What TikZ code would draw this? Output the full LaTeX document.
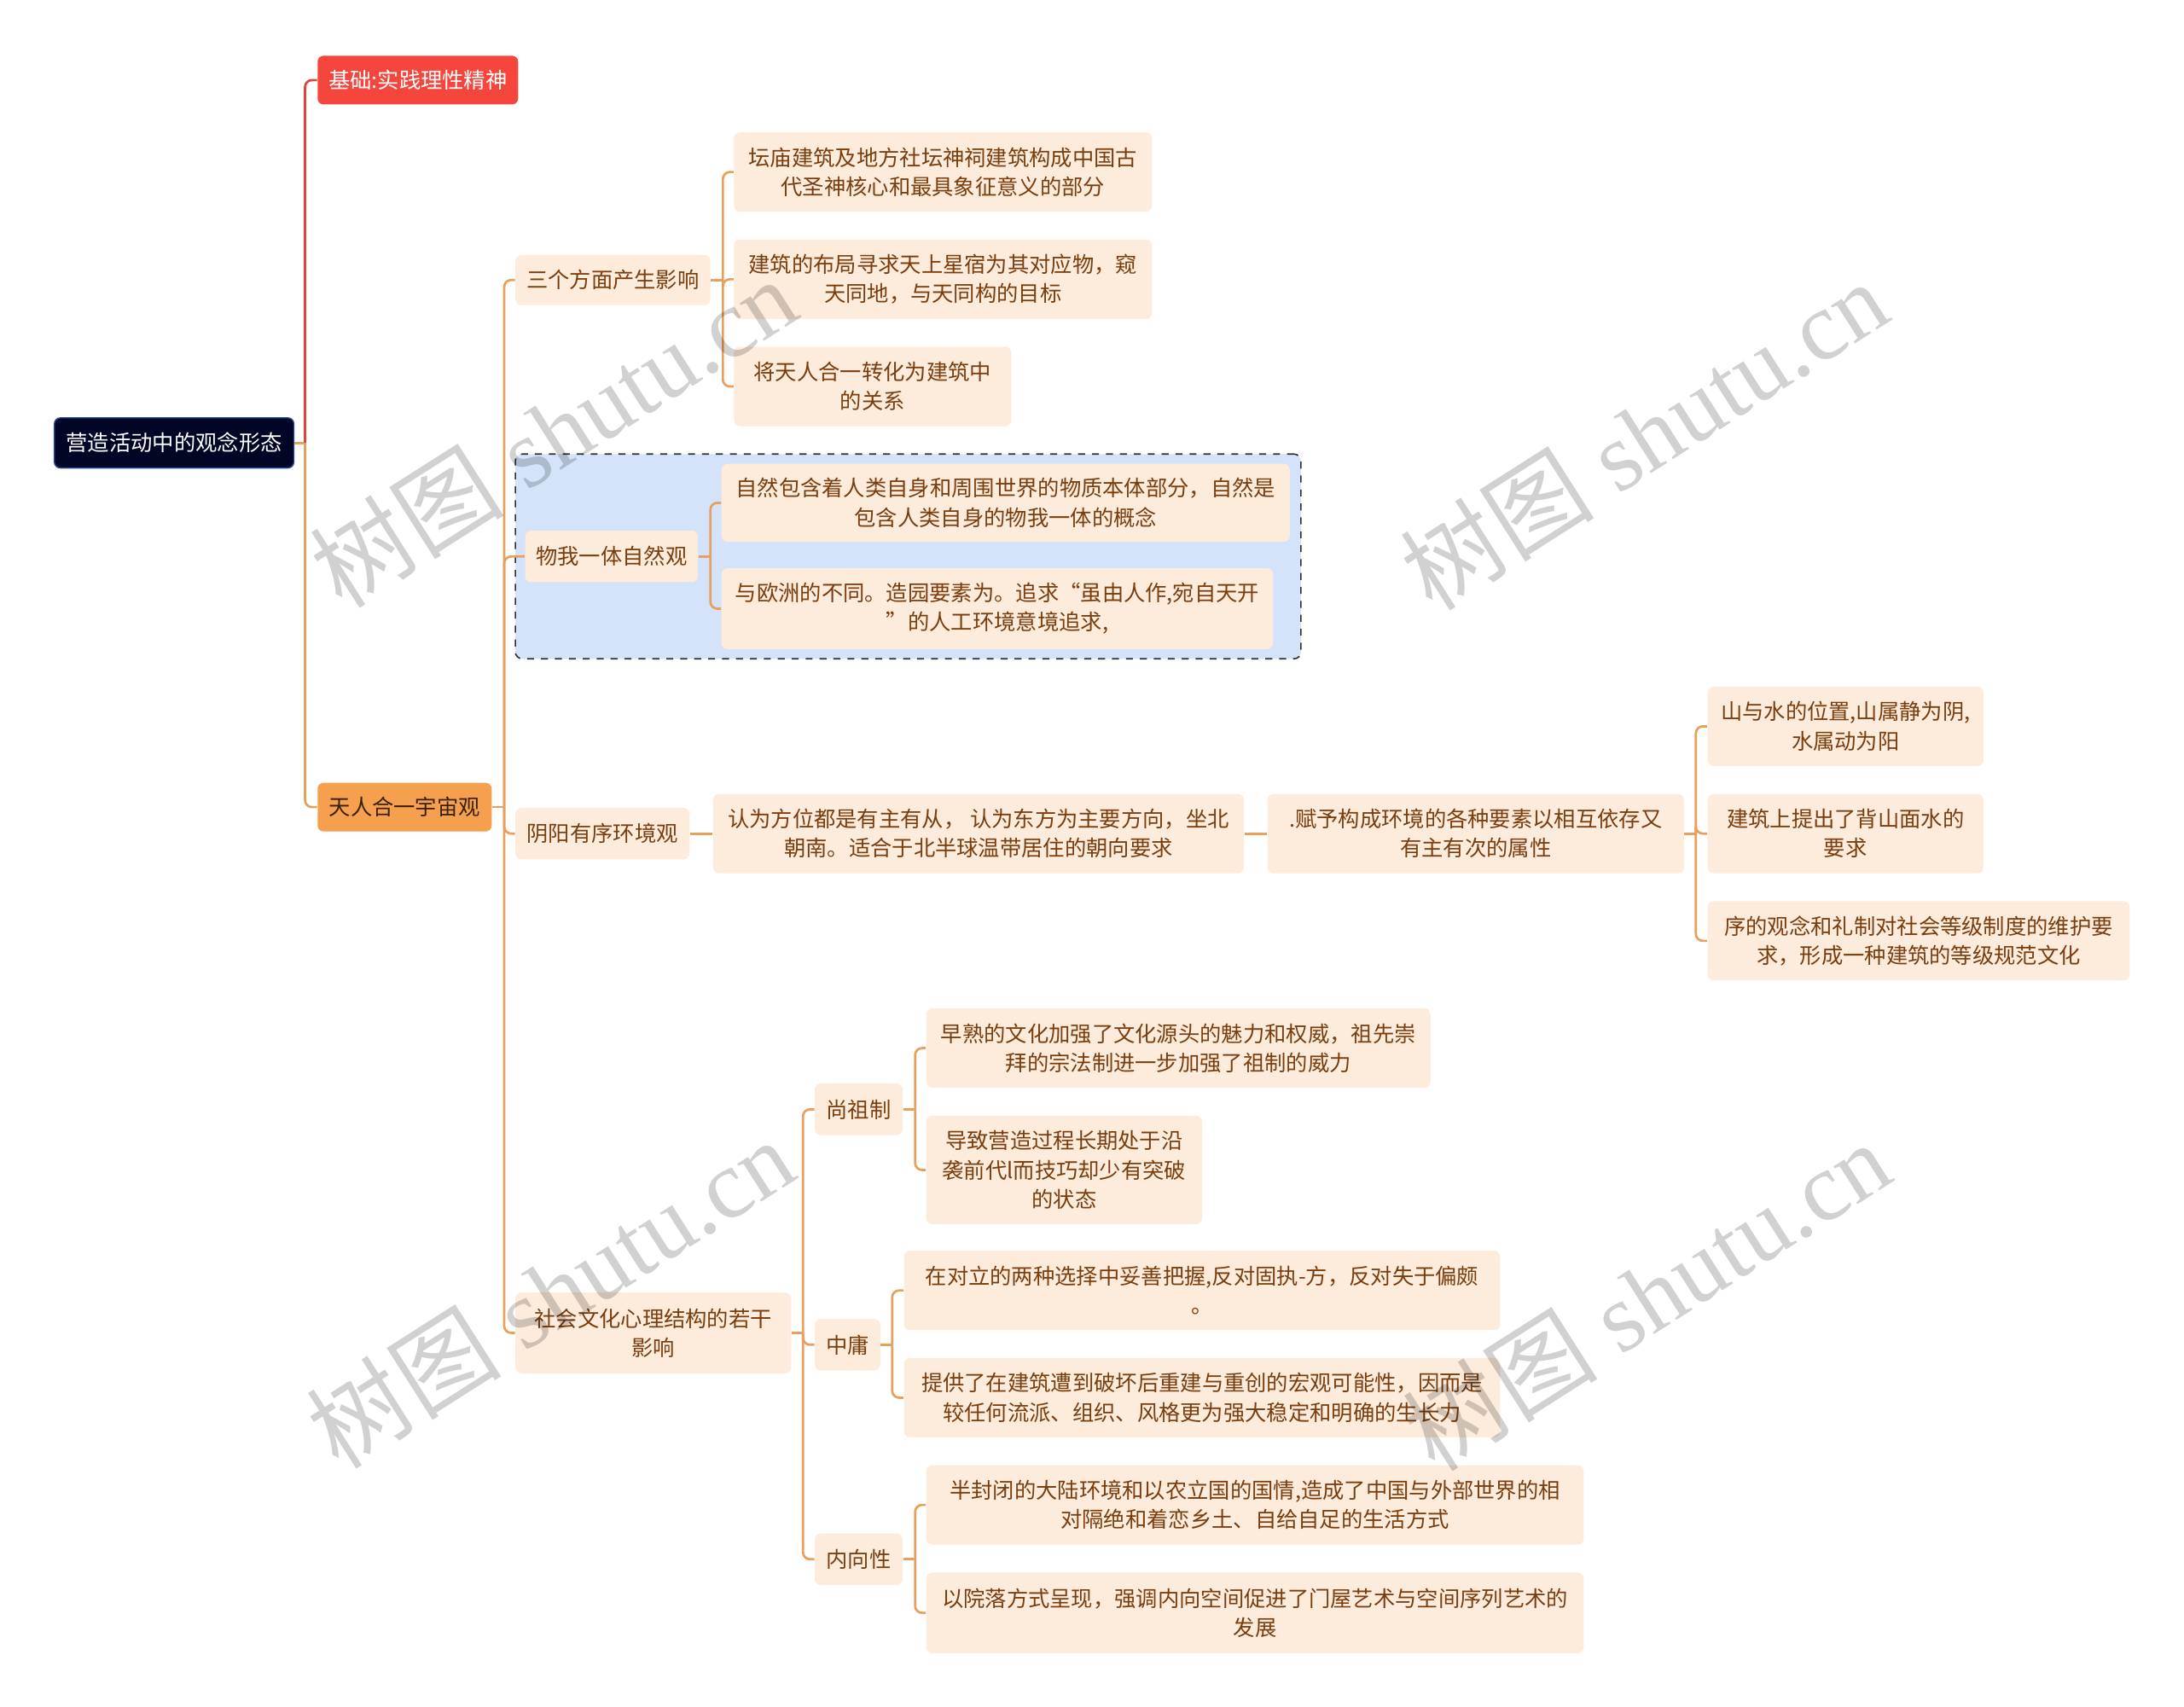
\documentclass[tikz,border=0pt]{standalone}
\usepackage{fontspec}
\setmainfont{Noto Sans CJK SC}
\newfontfamily\wmlatin{Liberation Serif}
\newfontfamily\wmcjk{Noto Sans CJK SC}
\usetikzlibrary{calc}
\definecolor{rootfill}{HTML}{020626}
\definecolor{rootdraw}{HTML}{2E4C9C}
\definecolor{redfill}{HTML}{F5463E}
\definecolor{orfill}{HTML}{F5A04E}
\definecolor{ortext}{HTML}{3A2008}
\definecolor{lightfill}{HTML}{FDEBDC}
\definecolor{lighttext}{HTML}{7A3E0E}
\definecolor{orline}{HTML}{E8A05C}
\definecolor{redline}{HTML}{E0443C}
\definecolor{bluefill}{HTML}{D4E3FA}
\definecolor{bluedraw}{HTML}{303030}
\tikzset{
  wh/.style 2 args={minimum width=#1*0.6pt, minimum height=#2*0.6pt},
  basebox/.style={rounded corners=2.6pt, inner sep=0pt, align=center,
    font=\fontsize{9.3}{12.6}\selectfont},
  rootbox/.style={basebox, fill=rootfill, draw=rootdraw, line width=0.5pt, text=white},
  redbox/.style={basebox, fill=redfill, text=white},
  orbox/.style={basebox, fill=orfill, text=ortext},
  leaf/.style={basebox, fill=lightfill, text=lighttext},
  region/.style={rounded corners=3pt, fill=bluefill, draw=bluedraw, dashed, line width=0.6pt, inner sep=0pt},
  conn/.style={draw=orline, line width=1pt, rounded corners=3pt},
  rconn/.style={draw=redline, line width=1pt, rounded corners=3pt},
  wmark/.style={rotate=32.5, text=black, text opacity=0.18, inner sep=0pt,
    font=\fontsize{42}{42}\selectfont}
}
\begin{document}
\begin{tikzpicture}[x=0.6pt,y=-0.6pt]
\useasboundingbox (0,0) rectangle (1568,1225.6);
\fill[white] (0,0) rectangle (1568,1225.6);

% blue region
\node[region, wh={564}{147}] (reg) at (652,399.5) {};

% nodes
\node[rootbox, wh={172}{36}] (root) at (125,318) {营造活动中的观念形态};
\node[redbox, wh={144}{35}] (red) at (300,57.5) {基础:实践理性精神};
\node[orbox, wh={125}{35}] (tian) at (290.5,579.5) {天人合一宇宙观};

\node[leaf, wh={140}{36}] (san) at (440,201) {三个方面产生影响};
\node[leaf, wh={300}{57}] (s1) at (677,123.5) {坛庙建筑及地方社坛神祠建筑构成中国古\\代圣神核心和最具象征意义的部分};
\node[leaf, wh={300}{57}] (s2) at (677,200.5) {建筑的布局寻求天上星宿为其对应物，窥\\天同地，与天同构的目标};
\node[leaf, wh={199}{57}] (s3) at (626.5,277.5) {将天人合一转化为建筑中\\的关系};

\node[leaf, wh={124}{37}] (wu) at (439,399.5) {物我一体自然观};
\node[leaf, wh={408}{56}] (w1) at (722,361) {自然包含着人类自身和周围世界的物质本体部分，自然是\\包含人类自身的物我一体的概念};
\node[leaf, wh={396}{58}] (w2) at (716,437) {与欧洲的不同。造园要素为。追求“虽由人作,宛自天开\\”的人工环境意境追求,};

\node[leaf, wh={125}{37}] (yin) at (432.5,598.5) {阴阳有序环境观};
\node[leaf, wh={381}{57}] (y1) at (702.5,598.5) {认为方位都是有主有从， 认为东方为主要方向，坐北\\朝南。适合于北半球温带居住的朝向要求};
\node[leaf, wh={299}{57}] (y2) at (1059.5,598.5) {.赋予构成环境的各种要素以相互依存又\\有主有次的属性};
\node[leaf, wh={198}{57}] (y3) at (1325,521.5) {山与水的位置,山属静为阴,\\水属动为阳};
\node[leaf, wh={198}{57}] (y4) at (1325,598.5) {建筑上提出了背山面水的\\要求};
\node[leaf, wh={303}{57}] (y5) at (1377.5,675.5) {序的观念和礼制对社会等级制度的维护要\\求，形成一种建筑的等级规范文化};

\node[leaf, wh={198}{58}] (she) at (469,957) {社会文化心理结构的若干\\影响};
\node[leaf, wh={63}{37}] (shang) at (616.5,796.5) {尚祖制};
\node[leaf, wh={362}{57}] (sh1) at (846,752.5) {早熟的文化加强了文化源头的魅力和权威，祖先崇\\拜的宗法制进一步加强了祖制的威力};
\node[leaf, wh={198}{78}] (sh2) at (764,840) {导致营造过程长期处于沿\\袭前代l而技巧却少有突破\\的状态};
\node[leaf, wh={47}{37}] (zhong) at (608.5,965.5) {中庸};
\node[leaf, wh={428}{57}] (z1) at (863,926.5) {在对立的两种选择中妥善把握,反对固执-方，反对失于偏颇\\。};
\node[leaf, wh={428}{57}] (z2) at (863,1003.5) {提供了在建筑遭到破坏后重建与重创的宏观可能性，因而是\\较任何流派、组织、风格更为强大稳定和明确的生长力};
\node[leaf, wh={63}{37}] (nei) at (616.5,1119.5) {内向性};
\node[leaf, wh={472}{57}] (n1) at (901,1080.5) {半封闭的大陆环境和以农立国的国情,造成了中国与外部世界的相\\对隔绝和着恋乡土、自给自足的生活方式};
\node[leaf, wh={472}{58}] (n2) at (901,1158) {以院落方式呈现，强调内向空间促进了门屋艺术与空间序列艺术的\\发展};

% junctions
\coordinate (j0) at (219,318);
\coordinate (j1) at (362,579.5);
\coordinate (j2) at (519,201);
\coordinate (j3) at (510,399.5);
\coordinate (j4) at (1217.5,598.5);
\coordinate (j5) at (576.5,957);
\coordinate (j6) at (657,796.5);
\coordinate (j7) at (640.5,965.5);
\coordinate (j8) at (657,1119.5);

% connectors
\draw[conn] (root.east) -- (j0);
\draw[rconn] (j0) |- (red.west);
\draw[conn] (j0) |- (tian.west);

\draw[conn] (tian.east) -- (j1);
\draw[conn] (j1) |- (san.west);
\draw[conn] (j1) |- (wu.west);
\draw[conn] (j1) |- (yin.west);
\draw[conn] (j1) |- (she.west);

\draw[conn] (san.east) -- (j2);
\draw[conn] (j2) |- (s1.west);
\draw[conn] (j2) |- (s2.west);
\draw[conn] (j2) |- (s3.west);

\draw[conn] (wu.east) -- (j3);
\draw[conn] (j3) |- (w1.west);
\draw[conn] (j3) |- (w2.west);

\draw[conn] (yin.east) -- (y1.west);
\draw[conn] (y1.east) -- (y2.west);
\draw[conn] (y2.east) -- (j4);
\draw[conn] (j4) |- (y3.west);
\draw[conn] (j4) |- (y4.west);
\draw[conn] (j4) |- (y5.west);

\draw[conn] (she.east) -- (j5);
\draw[conn] (j5) |- (shang.west);
\draw[conn] (j5) |- (zhong.west);
\draw[conn] (j5) |- (nei.west);

\draw[conn] (shang.east) -- (j6);
\draw[conn] (j6) |- (sh1.west);
\draw[conn] (j6) |- (sh2.west);

\draw[conn] (zhong.east) -- (j7);
\draw[conn] (j7) |- (z1.west);
\draw[conn] (j7) |- (z2.west);

\draw[conn] (nei.east) -- (j8);
\draw[conn] (j8) |- (n1.west);
\draw[conn] (j8) |- (n2.west);

% watermarks
\node[wmark] (wm1) at (397,310) {\wmcjk 树图\wmlatin\ shutu.cn};
\node[wmark] (wm2) at (1180,312) {\wmcjk 树图\wmlatin\ shutu.cn};
\node[wmark] (wm3) at (395,928) {\wmcjk 树图\wmlatin\ shutu.cn};
\node[wmark] (wm4) at (1182,930) {\wmcjk 树图\wmlatin\ shutu.cn};
\end{tikzpicture}
\end{document}
